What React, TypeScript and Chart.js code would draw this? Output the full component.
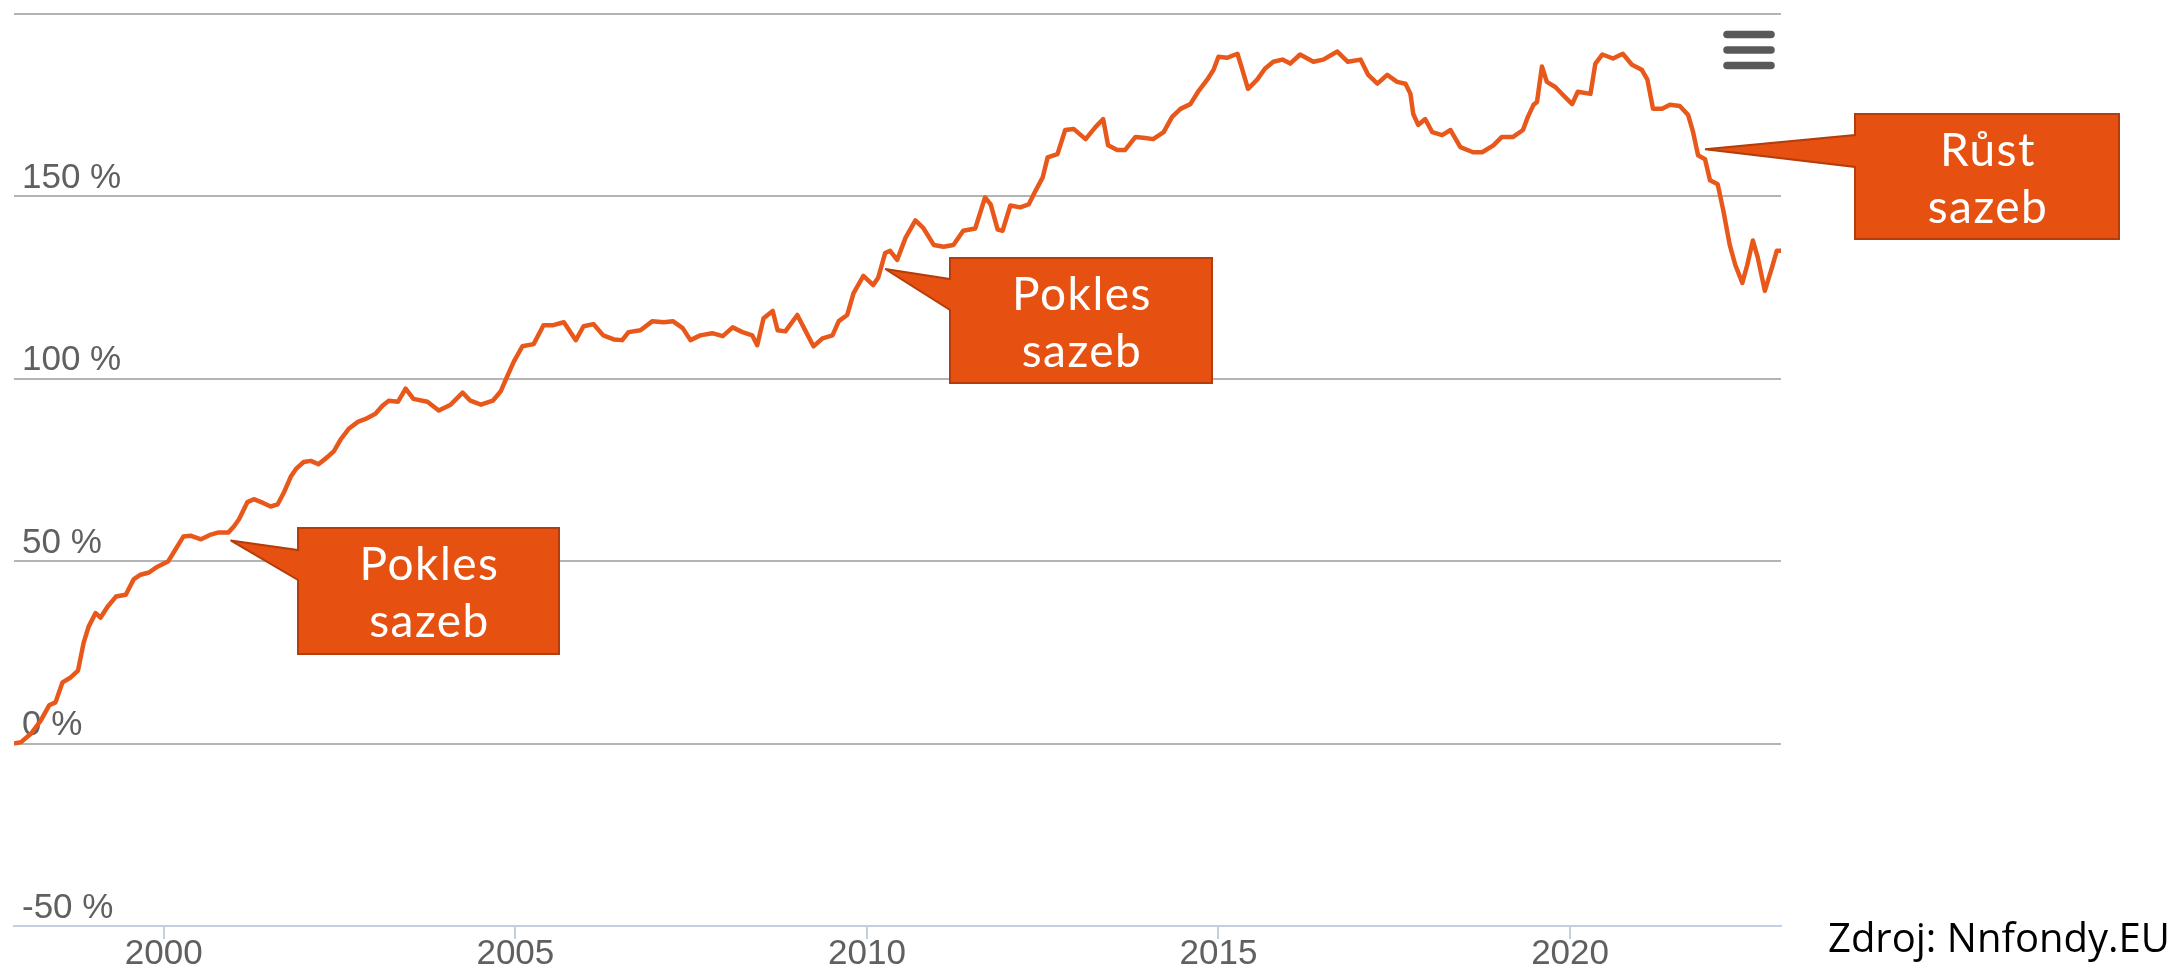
import React, { useEffect, useRef } from 'react';
import { Chart, registerables } from 'chart.js';

Chart.register(...registerables);

// ---- Data (decimal years, cumulative return in %) ----
const years1998to2003 = [1997.87, 1997.97, 1998.11, 1998.25, 1998.37, 1998.46, 1998.56, 1998.68, 1998.78, 1998.86, 1998.93, 1999.03, 1999.10, 1999.20, 1999.32, 1999.46, 1999.57, 1999.67, 1999.79, 1999.91, 2000.06, 2000.14, 2000.28, 2000.38, 2000.53, 2000.67, 2000.78, 2000.92, 2001.00, 2001.07, 2001.19, 2001.28, 2001.42, 2001.52, 2001.62, 2001.71, 2001.81, 2001.88, 2001.99, 2002.09, 2002.20, 2002.33, 2002.42, 2002.52, 2002.63, 2002.76, 2002.87, 2003.01, 2003.11, 2003.20, 2003.33, 2003.44];
const values1998to2003 = [0, 0.4, 2.7, 6.3, 10.5, 11.3, 16.8, 18.2, 20.0, 27.6, 32.0, 35.8, 34.5, 37.5, 40.3, 40.8, 45.0, 46.3, 46.9, 48.5, 49.9, 52.4, 56.8, 57.0, 56.0, 57.3, 57.9, 57.9, 59.6, 61.5, 66.2, 67.0, 65.9, 65.0, 65.6, 68.9, 73.3, 75.3, 77.2, 77.5, 76.6, 78.6, 80.2, 83.5, 86.3, 88.2, 89.0, 90.4, 92.6, 94.0, 93.7, 97.3];

const years2003to2010 = [2003.55, 2003.75, 2003.91, 2004.08, 2004.25, 2004.36, 2004.51, 2004.68, 2004.79, 2004.89, 2004.98, 2005.10, 2005.26, 2005.40, 2005.54, 2005.69, 2005.86, 2005.97, 2006.11, 2006.25, 2006.40, 2006.52, 2006.61, 2006.78, 2006.95, 2007.11, 2007.24, 2007.38, 2007.49, 2007.63, 2007.80, 2007.95, 2008.09, 2008.23, 2008.37, 2008.44, 2008.53, 2008.66, 2008.73, 2008.84, 2009.01, 2009.13, 2009.24, 2009.37, 2009.51, 2009.60, 2009.72, 2009.81, 2009.95, 2010.09, 2010.16, 2010.26, 2010.33, 2010.43];
const values2003to2010 = [94.5, 93.7, 91.3, 92.9, 96.2, 94.0, 92.9, 94.0, 96.5, 100.9, 104.8, 108.9, 109.5, 114.7, 114.7, 115.5, 110.6, 114.4, 115.0, 111.9, 110.8, 110.6, 112.8, 113.3, 115.8, 115.5, 115.8, 113.9, 110.6, 111.9, 112.5, 111.7, 114.1, 112.8, 111.9, 109.2, 116.6, 118.6, 113.3, 113.0, 117.5, 113.0, 108.9, 111.1, 111.9, 115.8, 117.5, 123.5, 128.2, 125.7, 127.7, 134.5, 135.1, 132.6];

const years2010to2016 = [2010.55, 2010.69, 2010.80, 2010.95, 2011.09, 2011.23, 2011.37, 2011.54, 2011.68, 2011.76, 2011.86, 2011.93, 2012.04, 2012.18, 2012.30, 2012.40, 2012.50, 2012.57, 2012.71, 2012.82, 2012.94, 2013.11, 2013.25, 2013.36, 2013.43, 2013.56, 2013.67, 2013.82, 2013.96, 2014.07, 2014.22, 2014.34, 2014.46, 2014.60, 2014.71, 2014.84, 2014.93, 2015.00, 2015.12, 2015.27, 2015.34, 2015.42, 2015.55, 2015.66, 2015.78, 2015.91, 2016.02, 2016.16];
const values2010to2016 = [138.7, 143.4, 141.4, 136.7, 136.2, 136.7, 140.6, 141.2, 149.7, 147.8, 140.9, 140.6, 147.5, 147.0, 147.8, 151.6, 155.2, 160.7, 161.6, 168.2, 168.5, 165.7, 169.0, 171.2, 164.0, 162.7, 162.7, 166.3, 166.0, 165.7, 167.6, 171.8, 174.0, 175.3, 178.7, 182.0, 184.7, 188.3, 188.0, 189.1, 184.7, 179.5, 182.0, 185.0, 186.9, 187.5, 186.4, 188.9];

const years2016to2023 = [2016.35, 2016.49, 2016.69, 2016.84, 2017.02, 2017.13, 2017.26, 2017.40, 2017.54, 2017.66, 2017.73, 2017.77, 2017.84, 2017.94, 2018.04, 2018.18, 2018.30, 2018.44, 2018.62, 2018.75, 2018.91, 2019.03, 2019.19, 2019.33, 2019.40, 2019.48, 2019.53, 2019.60, 2019.67, 2019.79, 2019.90, 2020.03, 2020.11, 2020.29, 2020.36, 2020.46, 2020.61, 2020.75, 2020.88, 2021.02, 2021.10, 2021.18, 2021.31, 2021.42, 2021.56, 2021.68, 2021.75, 2021.82, 2021.92, 2021.99, 2022.10, 2022.18, 2022.27, 2022.35, 2022.45, 2022.52, 2022.60, 2022.67, 2022.77, 2022.87, 2022.94, 2023.00];
const values2016to2023 = [186.9, 187.5, 189.7, 186.9, 187.5, 183.3, 180.9, 183.3, 181.4, 180.9, 178.1, 172.6, 169.6, 171.2, 167.6, 166.8, 168.2, 163.5, 162.1, 162.1, 164.0, 166.3, 166.3, 168.2, 171.8, 175.1, 175.9, 185.6, 181.4, 180.0, 177.8, 175.3, 178.7, 178.1, 186.4, 188.9, 187.8, 189.1, 186.1, 184.7, 182.0, 174.0, 174.0, 175.1, 174.8, 172.3, 167.6, 161.3, 160.2, 154.4, 153.3, 146.1, 136.8, 131.2, 126.3, 131.2, 137.9, 133.2, 124.1, 130.4, 135.1, 135.1];

const xTickYears = [2000, 2005, 2010, 2015, 2020];
const yTickValues = [-50, 0, 50, 100, 150, 200];
const xMin = 1997.87;
const xMax = 2023.0;

// Annotations (text + the data point each callout points to)
const calloutTexts = [['Pokles', 'sazeb'], ['Pokles', 'sazeb'], ['Růst', 'sazeb']];
const calloutAnchorYears = [2000.95, 2010.26, 2021.92];
const calloutAnchorValues = [55.7, 130.1, 162.9];
const sourceText = 'Zdroj: Nnfondy.EU';

// ---- Layout of the annotation boxes (pixels) ----
const calloutBoxes = [
  { left: 298, top: 528, right: 559, bottom: 654, baseTop: 550, baseBottom: 580 },
  { left: 950, top: 258, right: 1212, bottom: 383, baseTop: 279, baseBottom: 310 },
  { left: 1855, top: 114, right: 2119, bottom: 239, baseTop: 135, baseBottom: 167 },
];

const W = 2182;
const H = 971;

const overlayPlugin = {
  id: 'overlay',
  afterDraw(chart: any) {
    const ctx = chart.ctx as CanvasRenderingContext2D;
    const xs = chart.scales.x;
    const ys = chart.scales.y;
    calloutBoxes.forEach((b, i) => {
      const tx = xs.getPixelForValue(calloutAnchorYears[i]);
      const ty = ys.getPixelForValue(calloutAnchorValues[i]);
      ctx.save();
      ctx.beginPath();
      ctx.moveTo(b.left, b.top);
      ctx.lineTo(b.right, b.top);
      ctx.lineTo(b.right, b.bottom);
      ctx.lineTo(b.left, b.bottom);
      ctx.lineTo(b.left, b.baseBottom);
      ctx.lineTo(tx, ty);
      ctx.lineTo(b.left, b.baseTop);
      ctx.closePath();
      ctx.fillStyle = '#E65011';
      ctx.fill();
      ctx.lineWidth = 2;
      ctx.lineJoin = 'miter';
      ctx.miterLimit = 3;
      ctx.strokeStyle = '#B43D0B';
      ctx.stroke();
      const cx = (b.left + b.right) / 2;
      const cy = (b.top + b.bottom) / 2;
      ctx.fillStyle = '#ffffff';
      ctx.font = '400 46px Lato, "Open Sans", sans-serif';
      ctx.textAlign = 'center';
      ctx.textBaseline = 'alphabetic';
      (ctx as any).letterSpacing = '1.5px';
      ctx.fillText(calloutTexts[i][0], cx + 1, cy - 11);
      ctx.fillText(calloutTexts[i][1], cx + 1, cy + 46);
      ctx.restore();
    });

    // context menu icon
    ctx.save();
    ctx.strokeStyle = '#595959';
    ctx.lineWidth = 7.5;
    ctx.lineCap = 'round';
    [34.5, 50, 65.5].forEach((y) => {
      ctx.beginPath();
      ctx.moveTo(1727, y);
      ctx.lineTo(1771, y);
      ctx.stroke();
    });
    ctx.restore();

    // source
    ctx.save();
    ctx.fillStyle = '#000000';
    ctx.font = '400 40px "Open Sans", "Noto Sans", sans-serif';
    ctx.textAlign = 'left';
    ctx.textBaseline = 'alphabetic';
    ctx.fillText(sourceText, 1828, 952);
    ctx.restore();
  },
};

export default function App() {
  const canvasRef = useRef<HTMLCanvasElement | null>(null);

  useEffect(() => {
    document.body.style.margin = '0';
    const canvas = canvasRef.current;
    if (!canvas) return;

    const points = [
      ...years1998to2003.map((x, i) => ({ x, y: values1998to2003[i] })),
      ...years2003to2010.map((x, i) => ({ x, y: values2003to2010[i] })),
      ...years2010to2016.map((x, i) => ({ x, y: values2010to2016[i] })),
      ...years2016to2023.map((x, i) => ({ x, y: values2016to2023[i] })),
    ];

    const tickFont = { family: '"Liberation Sans", Arial, sans-serif', size: 35, lineHeight: 0.9 };
    const zeroPadding = (s: any) => {
      s.paddingTop = 0;
      s.paddingBottom = 0;
      s.paddingLeft = 0;
      s.paddingRight = 0;
    };

    const chart = new Chart(canvas, {
      type: 'line',
      data: {
        datasets: [
          {
            data: points,
            borderColor: '#E8581A',
            borderWidth: 4.5,
            pointRadius: 0,
            tension: 0,
            borderJoinStyle: 'round',
            fill: false,
          },
        ],
      },
      options: {
        animation: false,
        responsive: false,
        maintainAspectRatio: false,
        events: [],
        layout: { padding: { left: 14, right: W - 1781, top: 14, bottom: 0.5 } },
        plugins: { legend: { display: false }, tooltip: { enabled: false } },
        scales: {
          x: {
            type: 'linear',
            min: xMin,
            max: xMax,
            afterBuildTicks: (s: any) => {
              s.ticks = xTickYears.map((v) => ({ value: v }));
            },
            afterFit: zeroPadding,
            grid: {
              drawOnChartArea: false,
              drawTicks: true,
              tickLength: 13,
              color: '#c0d0e0',
              lineWidth: 2,
            },
            border: { display: true, color: '#c0d0e0', width: 2 },
            ticks: {
              color: '#606060',
              font: tickFont,
              padding: 0,
              maxRotation: 0,
              autoSkip: false,
              callback: (v: any) => String(v),
            },
          },
          y: {
            type: 'linear',
            min: -50,
            max: 200,
            afterBuildTicks: (s: any) => {
              s.ticks = yTickValues.map((v) => ({ value: v }));
            },
            afterFit: (s: any) => {
              s.width = 0;
              zeroPadding(s);
            },
            grid: {
              drawTicks: false,
              lineWidth: 2,
              color: (c: any) => (c.tick && c.tick.value === -50 ? 'rgba(0,0,0,0)' : '#b4b4b4'),
            },
            border: { display: false },
            ticks: {
              mirror: true,
              padding: 8,
              labelOffset: -18,
              color: '#606060',
              font: tickFont,
              autoSkip: false,
              callback: (v: any) => (v === 200 ? '' : `${v} %`),
            },
          },
        },
      },
      plugins: [overlayPlugin],
    });

    return () => chart.destroy();
  }, []);

  return (
    <div style={{ position: 'absolute', left: 0, top: 0, width: W, height: H, overflow: 'hidden', background: '#fff' }}>
      <canvas ref={canvasRef} width={W} height={H} style={{ width: W, height: H, display: 'block' }} />
    </div>
  );
}
